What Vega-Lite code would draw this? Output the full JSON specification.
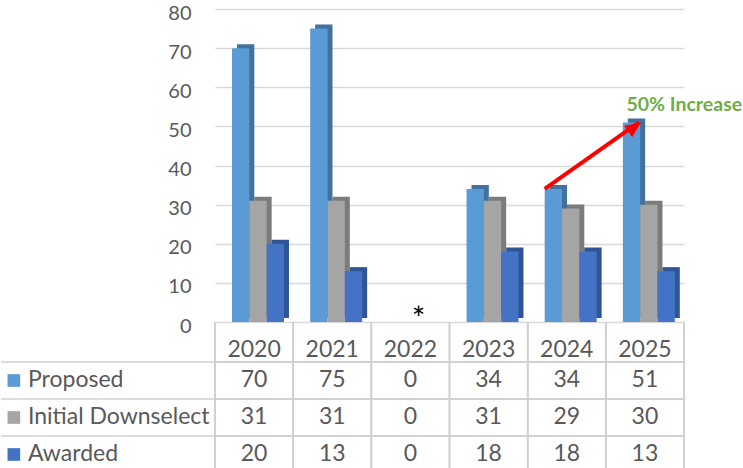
{
  "$schema": "https://vega.github.io/schema/vega-lite/v6.json",
  "padding": {"top": 3, "left": 0, "right": 0, "bottom": 0},
  "autosize": {"type": "pad"},
  "columns": 2,
  "spacing": 0,
  "bounds": "flush",
  "config": {"view": {"stroke": null}, "font": "Lato"},
  "resolve": {"scale": {"x": "independent", "y": "independent", "color": "independent", "fill": "independent"}},
  "datasets": {
    "table": [
      {"year": "2020", "series": "Proposed", "value": 70},
      {"year": "2020", "series": "Initial Downselect", "value": 31},
      {"year": "2020", "series": "Awarded", "value": 20},
      {"year": "2021", "series": "Proposed", "value": 75},
      {"year": "2021", "series": "Initial Downselect", "value": 31},
      {"year": "2021", "series": "Awarded", "value": 13},
      {"year": "2022", "series": "Proposed", "value": 0},
      {"year": "2022", "series": "Initial Downselect", "value": 0},
      {"year": "2022", "series": "Awarded", "value": 0},
      {"year": "2023", "series": "Proposed", "value": 34},
      {"year": "2023", "series": "Initial Downselect", "value": 31},
      {"year": "2023", "series": "Awarded", "value": 18},
      {"year": "2024", "series": "Proposed", "value": 34},
      {"year": "2024", "series": "Initial Downselect", "value": 29},
      {"year": "2024", "series": "Awarded", "value": 18},
      {"year": "2025", "series": "Proposed", "value": 51},
      {"year": "2025", "series": "Initial Downselect", "value": 30},
      {"year": "2025", "series": "Awarded", "value": 13}
    ],
    "seriesList": [
      {"series": "Proposed"},
      {"series": "Initial Downselect"},
      {"series": "Awarded"}
    ]
  },
  "concat": [
    {
      "width": 214,
      "height": 313,
      "data": {"values": [{"t": ""}]},
      "mark": {"type": "text"},
      "encoding": {"text": {"field": "t"}}
    },
    {
      "width": 469,
      "height": 313,
      "resolve": {"scale": {"x": "independent"}},
      "layer": [
        {
          "data": {"name": "table"},
          "mark": {"type": "bar", "yOffset": -4, "y2Offset": -4},
          "encoding": {
            "x": {"field": "year", "type": "nominal", "scale": {"type": "band", "paddingInner": 0.335, "paddingOuter": 0.1675, "align": 0.84}, "axis": null},
            "xOffset": {"field": "series", "type": "nominal", "scale": {"domain": ["Proposed", "Initial Downselect", "Awarded"]}},
            "y": {"field": "value", "type": "quantitative", "scale": {"domain": [0, 80], "nice": false},
              "axis": {"values": [0, 10, 20, 30, 40, 50, 60, 70, 80], "tickCount": 9, "labelOverlap": false, "domain": false, "ticks": false, "labelPadding": 24, "labelOffset": 4, "labelFontSize": 20, "labelColor": "#595959", "gridColor": "#D9D9D9", "gridWidth": 1.5, "title": null}},
            "fill": {"field": "series", "type": "nominal", "scale": {"domain": ["Proposed", "Initial Downselect", "Awarded"], "range": ["#41719C", "#7B7B7B", "#2F5597"]}, "legend": null}
          }
        },
        {
          "layer": [
            {
              "data": {"name": "table"},
              "mark": {"type": "bar"},
              "encoding": {
                "x": {"field": "year", "type": "nominal", "scale": {"type": "band", "paddingInner": 0.335, "paddingOuter": 0.1675, "align": 0.65}, "axis": null},
                "xOffset": {"field": "series", "type": "nominal", "scale": {"domain": ["Proposed", "Initial Downselect", "Awarded"]}},
                "y": {"field": "value", "type": "quantitative",
                  "axis": {"values": [0, 10, 20, 30, 40, 50, 60, 70, 80], "tickCount": 9, "labelOverlap": false, "domain": false, "ticks": false, "labelPadding": 24, "labelOffset": 4, "labelFontSize": 20, "labelColor": "#595959", "gridColor": "#D9D9D9", "gridWidth": 1.5, "title": null}},
                "color": {"field": "series", "type": "nominal", "scale": {"domain": ["Proposed", "Initial Downselect", "Awarded"], "range": ["#5B9BD5", "#A5A5A5", "#4472C4"]}, "legend": null}
              }
            },
            {
              "data": {"values": [{"year": "2022", "value": 0, "label": "*"}]},
              "mark": {"type": "text", "fontSize": 32, "color": "#000000", "baseline": "alphabetic", "dy": 8},
              "encoding": {
                "x": {"field": "year", "type": "nominal", "bandPosition": 0.58, "axis": null},
                "y": {"field": "value", "type": "quantitative"},
                "text": {"field": "label"}
              }
            },
            {
              "data": {"values": [{"from": "2024", "to": "2025", "start": 34, "end": 51}]},
              "mark": {"type": "rule", "color": "#FF0000", "strokeWidth": 4},
              "encoding": {
                "x": {"field": "from", "type": "nominal", "bandPosition": 0, "axis": null},
                "x2": {"field": "to", "bandPosition": 0.31},
                "y": {"field": "start", "type": "quantitative"},
                "y2": {"field": "end"}
              }
            },
            {
              "data": {"values": [{"to": "2025", "end": 51}]},
              "mark": {"type": "point", "shape": "M0,0L-0.45,1L0.45,1Z", "filled": true, "opacity": 1, "color": "#FF0000", "size": 1000, "angle": 55},
              "encoding": {
                "x": {"field": "to", "type": "nominal", "bandPosition": 0.35, "axis": null},
                "y": {"field": "end", "type": "quantitative"}
              }
            },
            {
              "data": {"values": [{"year": "2025", "value": 51, "label": "50% Increase"}]},
              "mark": {"type": "text", "fontSize": 19.5, "fontWeight": "bold", "color": "#70AD47", "align": "left", "baseline": "alphabetic", "dy": -11},
              "encoding": {
                "x": {"field": "year", "type": "nominal", "bandPosition": 0.07, "axis": null},
                "y": {"field": "value", "type": "quantitative"},
                "text": {"field": "label"}
              }
            }
          ]
        }
      ]
    },
    {
      "width": 214,
      "height": 151,
      "data": {"name": "seriesList"},
      "layer": [
        {
          "mark": {"type": "rule", "color": "#D0D0D0", "strokeWidth": 1.5},
          "encoding": {
            "y": {"field": "series", "type": "nominal", "bandPosition": 0, "scale": {"type": "band", "domain": ["Proposed", "Initial Downselect", "Awarded"], "paddingInner": 0, "paddingOuter": 0.5405, "align": 1}, "axis": null}
          }
        },
        {
          "mark": {"type": "point", "shape": "square", "filled": true, "opacity": 1, "size": 160},
          "encoding": {
            "x": {"datum": 6, "type": "quantitative", "scale": {"domain": [0, 100]}, "axis": null},
            "y": {"field": "series", "type": "nominal"},
            "color": {"field": "series", "type": "nominal", "scale": {"domain": ["Proposed", "Initial Downselect", "Awarded"], "range": ["#5B9BD5", "#A5A5A5", "#4472C4"]}, "legend": null}
          }
        },
        {
          "mark": {"type": "text", "align": "left", "fontSize": 23, "color": "#595959"},
          "encoding": {
            "x": {"datum": 12.6, "type": "quantitative"},
            "y": {"field": "series", "type": "nominal"},
            "text": {"field": "series"}
          }
        }
      ]
    },
    {
      "width": 469,
      "height": 151,
      "data": {"name": "table"},
      "layer": [
        {
          "mark": {"type": "rule", "color": "#D0D0D0", "strokeWidth": 1.5},
          "encoding": {
            "x": {"field": "year", "type": "nominal", "bandPosition": 0, "scale": {"type": "band", "paddingInner": 0, "paddingOuter": 0},
              "axis": {"orient": "top", "offset": -40, "ticks": false, "domain": false, "labelPadding": 6, "labelBaseline": "alphabetic", "labelFontSize": 23, "labelColor": "#595959", "labelAngle": 0, "title": null}}
          }
        },
        {
          "transform": [{"filter": "datum.year == '2025'"}],
          "mark": {"type": "rule", "color": "#D0D0D0", "strokeWidth": 1.5},
          "encoding": {
            "x": {"field": "year", "type": "nominal", "bandPosition": 1}
          }
        },
        {
          "mark": {"type": "rule", "color": "#D0D0D0", "strokeWidth": 1.5},
          "encoding": {
            "y": {"field": "series", "type": "nominal", "bandPosition": 0, "scale": {"type": "band", "domain": ["Proposed", "Initial Downselect", "Awarded"], "paddingInner": 0, "paddingOuter": 0.5405, "align": 1}, "axis": null}
          }
        },
        {
          "mark": {"type": "text", "fontSize": 23, "color": "#595959"},
          "encoding": {
            "x": {"field": "year", "type": "nominal"},
            "y": {"field": "series", "type": "nominal"},
            "text": {"field": "value"}
          }
        }
      ]
    }
  ]
}
